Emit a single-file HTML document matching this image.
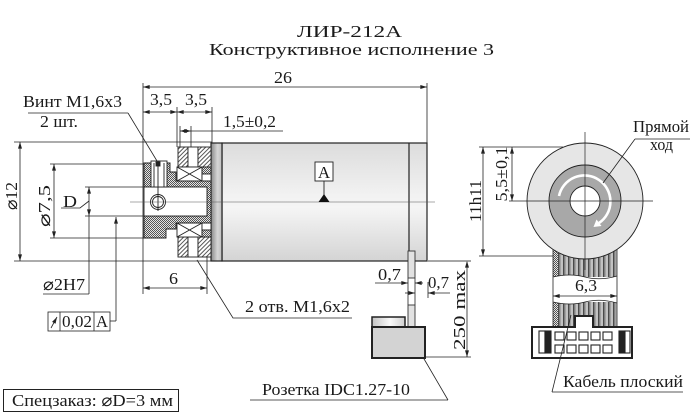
<!DOCTYPE html>
<html><head><meta charset="utf-8">
<style>
html,body{margin:0;padding:0;background:#fff;}
svg{display:block;}
text{font-family:"Liberation Serif","DejaVu Serif","Noto Serif CJK SC",serif;fill:#1a1a1a;font-size:17px;}
</style></head><body>
<svg width="700" height="416" viewBox="0 0 700 416" xmlns="http://www.w3.org/2000/svg">
<defs>
 <marker id="a" viewBox="0 0 10 6" refX="10" refY="3" markerWidth="7" markerHeight="4" orient="auto-start-reverse" markerUnits="userSpaceOnUse"><path d="M0,0 L10,3 L0,6 z" fill="#222"/></marker>
 <pattern id="h" patternUnits="userSpaceOnUse" width="3" height="3" patternTransform="rotate(45)"><rect width="3" height="3" fill="#fff"/><line x1="0.5" y1="0" x2="0.5" y2="3" stroke="#444" stroke-width="0.9"/></pattern>
 <pattern id="c" patternUnits="userSpaceOnUse" width="2" height="2"><rect width="2" height="2" fill="#e4e4e4"/><rect width="1" height="1" fill="#555"/><rect x="1" y="1" width="1" height="1" fill="#555"/></pattern>
 <pattern id="s" patternUnits="userSpaceOnUse" x="553" y="0" width="5" height="10"><rect width="5" height="10" fill="#c2c2c2"/><rect width="2.5" height="10" fill="#808080"/><rect width="0.7" height="10" fill="#333"/></pattern>
 <linearGradient id="body" x1="0" y1="0" x2="0" y2="1"><stop offset="0" stop-color="#dcdcdc"/><stop offset="0.45" stop-color="#f2f2f2"/><stop offset="0.55" stop-color="#f5f5f5"/><stop offset="1" stop-color="#d4d4d4"/></linearGradient>
 <linearGradient id="band" x1="0" y1="0" x2="1" y2="0"><stop offset="0" stop-color="#8a8a8a"/><stop offset="0.6" stop-color="#d6d6d6"/><stop offset="1" stop-color="#bdbdbd"/></linearGradient>
 <linearGradient id="bar" x1="0" y1="0" x2="1" y2="0"><stop offset="0" stop-color="#c4c4c4"/><stop offset="0.55" stop-color="#fafafa"/><stop offset="1" stop-color="#cfcfcf"/></linearGradient>
</defs>

<!-- Title -->
<text x="297" y="37" font-size="21" textLength="105" lengthAdjust="spacingAndGlyphs">ЛИР-212А</text>
<text x="209" y="55" font-size="21" textLength="285" lengthAdjust="spacingAndGlyphs">Конструктивное исполнение 3</text>

<g stroke="#222" stroke-width="0.8" fill="none">
 <line x1="143" y1="87" x2="427" y2="87" marker-start="url(#a)" marker-end="url(#a)"/>
 <line x1="143" y1="83" x2="143" y2="294"/>
 <line x1="427" y1="83" x2="427" y2="143"/>
 <line x1="143" y1="112" x2="177" y2="112" marker-start="url(#a)" marker-end="url(#a)"/>
 <line x1="177" y1="112" x2="212" y2="112" marker-start="url(#a)" marker-end="url(#a)"/>
 <line x1="177" y1="107" x2="177" y2="147"/>
 <line x1="212" y1="107" x2="212" y2="143"/>
 <line x1="180" y1="131" x2="191" y2="131" marker-start="url(#a)" marker-end="url(#a)"/>
 <line x1="191" y1="131" x2="283" y2="131"/>
 <line x1="180" y1="126" x2="180" y2="147"/>
 <line x1="191" y1="126" x2="191" y2="147"/>
 <line x1="28" y1="113" x2="128" y2="113"/>
 <line x1="128" y1="113" x2="157" y2="161"/>
 <line x1="20" y1="142" x2="20" y2="261" marker-start="url(#a)" marker-end="url(#a)"/>
 <line x1="14" y1="142" x2="212" y2="142"/>
 <line x1="14" y1="261" x2="212" y2="261"/>
 <line x1="54" y1="164" x2="54" y2="238" marker-start="url(#a)" marker-end="url(#a)"/>
 <line x1="50" y1="164" x2="151" y2="164"/>
 <line x1="50" y1="238" x2="144" y2="238"/>
 <line x1="89" y1="187" x2="89" y2="216" marker-start="url(#a)" marker-end="url(#a)"/>
 <line x1="85" y1="187" x2="143" y2="187"/>
 <line x1="85" y1="216" x2="143" y2="216"/>
 <line x1="89" y1="216" x2="89" y2="294"/>
 <polyline points="61,208 80,208 89,201"/>
 <line x1="43" y1="294" x2="89" y2="294"/>
 <line x1="116" y1="217" x2="116" y2="321" marker-start="url(#a)"/>
 <line x1="110" y1="321" x2="116" y2="321"/>
 <rect x="48" y="312" width="62" height="19"/>
 <line x1="60" y1="312" x2="60" y2="331"/>
 <line x1="94" y1="312" x2="94" y2="331"/>
 <line x1="51" y1="328" x2="57" y2="317" marker-end="url(#a)"/>
 <line x1="143" y1="288" x2="207" y2="288" marker-start="url(#a)" marker-end="url(#a)"/>
 <line x1="207" y1="257" x2="207" y2="294"/>
 <polyline points="197,260 233,318 352,318"/>
</g>

<!-- Motor body -->
<rect x="222" y="143" width="205" height="118" fill="url(#body)" stroke="#222" stroke-width="1.2"/>
<line x1="409" y1="143" x2="409" y2="261" stroke="#222" stroke-width="1.2"/>
<rect x="211" y="143" width="11" height="118" fill="url(#band)" stroke="#222" stroke-width="1.2"/>

<g stroke="#222" stroke-width="0.9">
 <rect x="178" y="147" width="10" height="20" fill="url(#h)"/>
 <rect x="188" y="147" width="10" height="20" fill="#fff"/>
 <rect x="198" y="147" width="13" height="20" fill="url(#h)"/>
 <rect x="177" y="167" width="25" height="14" fill="#fff"/>
 <line x1="177" y1="167" x2="202" y2="181"/><line x1="177" y1="181" x2="202" y2="167"/>
 <rect x="202" y="167" width="9" height="7" fill="url(#c)"/>
 <rect x="202" y="174" width="9" height="7" fill="#fff"/>
 <rect x="178" y="237" width="10" height="20" fill="url(#h)"/>
 <rect x="188" y="237" width="10" height="20" fill="#fff"/>
 <rect x="198" y="237" width="13" height="20" fill="url(#h)"/>
 <rect x="177" y="223" width="25" height="14" fill="#fff"/>
 <line x1="177" y1="223" x2="202" y2="237"/><line x1="177" y1="237" x2="202" y2="223"/>
 <rect x="202" y="223" width="9" height="7" fill="#fff"/>
 <rect x="202" y="230" width="9" height="7" fill="url(#c)"/>
 <path d="M144,163 H151 V187 H144 Z" fill="url(#c)"/>
 <path d="M167,163 H170 V172 H176 V181 H211 V223 H176 V229 H166 V238 H144 V216 H207 V187 H167 Z" fill="url(#c)"/>
 <rect x="144" y="187" width="63" height="29" fill="#fff"/>
 <rect x="151" y="161" width="16" height="26" fill="#fff"/>
 <line x1="154" y1="163" x2="154" y2="187"/><line x1="164" y1="163" x2="164" y2="187"/>
 <rect x="156" y="162" width="4" height="4" fill="#222"/>
 <circle cx="158" cy="202" r="7.5" fill="#fff"/>
 <circle cx="158" cy="202" r="5.5" fill="none"/>
 <line x1="158" y1="161" x2="158" y2="211"/>
</g>

<line x1="130" y1="202" x2="435" y2="202" stroke="#555" stroke-width="0.6"/>

<rect x="315" y="162" width="18" height="19" fill="#fff" stroke="#222" stroke-width="0.9"/>
<text x="324" y="178" font-size="16" text-anchor="middle">A</text>
<line x1="324" y1="181" x2="324" y2="195" stroke="#222" stroke-width="0.9"/>
<polygon points="318.5,202 329.5,202 324,194" fill="#111"/>

<g stroke="#222" stroke-width="0.8" fill="none">
 <line x1="408" y1="278" x2="408" y2="305"/>
 <line x1="415" y1="278" x2="415" y2="305"/>
 <line x1="375" y1="283" x2="408" y2="283" marker-end="url(#a)"/>
 <line x1="423" y1="283" x2="415" y2="283" marker-end="url(#a)"/>
 <line x1="405" y1="293" x2="415" y2="293" marker-end="url(#a)"/>
 <line x1="450" y1="293" x2="428" y2="293" marker-end="url(#a)"/>
 <line x1="428" y1="282" x2="428" y2="298"/>
 <line x1="420" y1="352" x2="448" y2="400"/>
 <line x1="250" y1="400" x2="448" y2="400"/>
 <line x1="467" y1="261" x2="467" y2="357" marker-start="url(#a)" marker-end="url(#a)"/>
 <line x1="425" y1="357" x2="471" y2="357"/>
</g>
<line x1="427" y1="261" x2="471" y2="261" stroke="#888" stroke-width="1.4"/>
<rect x="408" y="251" width="7" height="27" fill="#e2e2e2" stroke="#333" stroke-width="0.9"/>
<rect x="408" y="305" width="7" height="22" fill="#e2e2e2" stroke="#333" stroke-width="0.9"/>
<rect x="372" y="317" width="33" height="10" fill="url(#bar)" stroke="#222" stroke-width="1.5"/>
<rect x="372" y="327" width="53" height="31" fill="#d3d3d3" stroke="#222" stroke-width="2"/>

<text x="274" y="83" textLength="18" lengthAdjust="spacingAndGlyphs">26</text>
<text x="150" y="105" textLength="22" lengthAdjust="spacingAndGlyphs">3,5</text>
<text x="185" y="105" textLength="22" lengthAdjust="spacingAndGlyphs">3,5</text>
<text x="223" y="127" textLength="53" lengthAdjust="spacingAndGlyphs">1,5±0,2</text>
<text x="23" y="107" textLength="99" lengthAdjust="spacingAndGlyphs">Винт М1,6х3</text>
<text x="40" y="127" textLength="38" lengthAdjust="spacingAndGlyphs">2 шт.</text>
<text transform="translate(17,196) rotate(-90)" text-anchor="middle" textLength="28" lengthAdjust="spacingAndGlyphs">⌀12</text>
<text transform="translate(50,206) rotate(-90)" text-anchor="middle" textLength="42" lengthAdjust="spacingAndGlyphs">⌀7,5</text>
<text x="63" y="207" textLength="14" lengthAdjust="spacingAndGlyphs">D</text>
<text x="43" y="290" textLength="42" lengthAdjust="spacingAndGlyphs">⌀2H7</text>
<text x="62" y="327" font-size="16" textLength="30" lengthAdjust="spacingAndGlyphs">0,02</text>
<text x="96" y="327" font-size="16" textLength="12" lengthAdjust="spacingAndGlyphs">A</text>
<text x="169" y="284" textLength="9" lengthAdjust="spacingAndGlyphs">6</text>
<text x="245" y="312" textLength="105" lengthAdjust="spacingAndGlyphs">2 отв. М1,6х2</text>
<text x="378" y="280" textLength="23" lengthAdjust="spacingAndGlyphs">0,7</text>
<text x="428" y="288" textLength="21" lengthAdjust="spacingAndGlyphs">0,7</text>
<text transform="translate(465,310) rotate(-90)" text-anchor="middle" textLength="80" lengthAdjust="spacingAndGlyphs">250 max</text>
<text x="262" y="395" textLength="148" lengthAdjust="spacingAndGlyphs">Розетка IDC1.27-10</text>

<rect x="3.5" y="389.5" width="175" height="22" fill="none" stroke="#222" stroke-width="1"/>
<text x="12" y="406" textLength="161" lengthAdjust="spacingAndGlyphs">Спецзаказ: ⌀D=3 мм</text>

<rect x="553" y="235" width="64" height="42" fill="url(#s)"/>
<rect x="553" y="235" width="5" height="42" fill="url(#c)"/>
<path d="M553,277 Q570,273 585,277 T617,276 L617,284 L553,284 Z" fill="#fff"/>
<rect x="553" y="302" width="64" height="25" fill="url(#s)"/>
<rect x="553" y="302" width="5" height="25" fill="url(#c)"/>
<path d="M553,302 Q570,306 585,302 T617,303 L617,296 L553,296 Z" fill="#fff"/>
<g stroke="#222" stroke-width="0.8" fill="none">
 <line x1="553" y1="235" x2="553" y2="327"/>
 <line x1="617" y1="235" x2="617" y2="327"/>
 <path d="M553,277 Q570,273 585,277 T617,276"/>
 <path d="M553,302 Q570,306 585,302 T617,303"/>
 <line x1="553" y1="296" x2="617" y2="296" marker-start="url(#a)" marker-end="url(#a)"/>
</g>
<text x="575" y="291" textLength="22" lengthAdjust="spacingAndGlyphs">6,3</text>

<circle cx="585" cy="201" r="58" fill="#e6e6e6" stroke="#222" stroke-width="0.9"/>
<circle cx="585" cy="201" r="36" fill="#a8a8a8" stroke="#222" stroke-width="0.9"/>
<circle cx="585" cy="201" r="15" fill="#fff" stroke="#222" stroke-width="0.9"/>
<path d="M559,196 A26,26 0 1 1 599,223" fill="none" stroke="#fff" stroke-width="2.6"/>
<polygon points="593.5,227 601.5,226 596.5,219.5" fill="#fff"/>
<g stroke="#222" stroke-width="0.7" fill="none">
 <line x1="585" y1="132" x2="585" y2="270"/>
 <line x1="509" y1="201" x2="653" y2="201"/>
</g>
<g stroke="#222" stroke-width="0.8" fill="none">
 <line x1="483" y1="147" x2="483" y2="256" marker-start="url(#a)" marker-end="url(#a)"/>
 <line x1="479" y1="147" x2="563" y2="147"/>
 <line x1="479" y1="256" x2="553" y2="256"/>
 <line x1="512" y1="147" x2="512" y2="201" marker-start="url(#a)" marker-end="url(#a)"/>
 <line x1="635" y1="139" x2="690" y2="139"/>
 <line x1="635" y1="139" x2="603" y2="183"/>
</g>
<text transform="translate(481,201) rotate(-90)" text-anchor="middle" textLength="42" lengthAdjust="spacingAndGlyphs">11h11</text>
<text transform="translate(507,174) rotate(-90)" text-anchor="middle" textLength="55" lengthAdjust="spacingAndGlyphs">5,5±0,1</text>
<text x="633" y="132" textLength="56" lengthAdjust="spacingAndGlyphs">Прямой</text>
<text x="650" y="150" textLength="23" lengthAdjust="spacingAndGlyphs">ход</text>

<path d="M532,327 H575 V316 H593 V327 H632 V358 H532 Z" fill="#fff" stroke="#222" stroke-width="2"/>
<g stroke="#222" stroke-width="1.1">
 <rect x="539" y="331" width="6" height="22" fill="#fff"/>
 <rect x="545" y="331" width="6" height="22" fill="#222"/>
 <rect x="619" y="331" width="6" height="22" fill="#222"/>
 <rect x="625" y="331" width="5" height="22" fill="#fff"/>
 <rect x="555" y="332" width="9" height="8" fill="#fff"/>
 <rect x="567" y="332" width="9" height="8" fill="#fff"/>
 <rect x="579" y="332" width="9" height="8" fill="#fff"/>
 <rect x="591" y="332" width="9" height="8" fill="#fff"/>
 <rect x="603" y="332" width="9" height="8" fill="#fff"/>
 <rect x="555" y="345" width="9" height="8" fill="#fff"/>
 <rect x="567" y="345" width="9" height="8" fill="#fff"/>
 <rect x="579" y="345" width="9" height="8" fill="#fff"/>
 <rect x="591" y="345" width="9" height="8" fill="#fff"/>
 <rect x="603" y="345" width="9" height="8" fill="#fff"/>
</g>
<g stroke="#222" stroke-width="0.8" fill="none">
 <line x1="552" y1="392" x2="571" y2="315"/>
 <line x1="552" y1="392" x2="683" y2="392"/>
</g>
<text x="563" y="387" textLength="120" lengthAdjust="spacingAndGlyphs">Кабель плоский</text>
</svg>
</body></html>
